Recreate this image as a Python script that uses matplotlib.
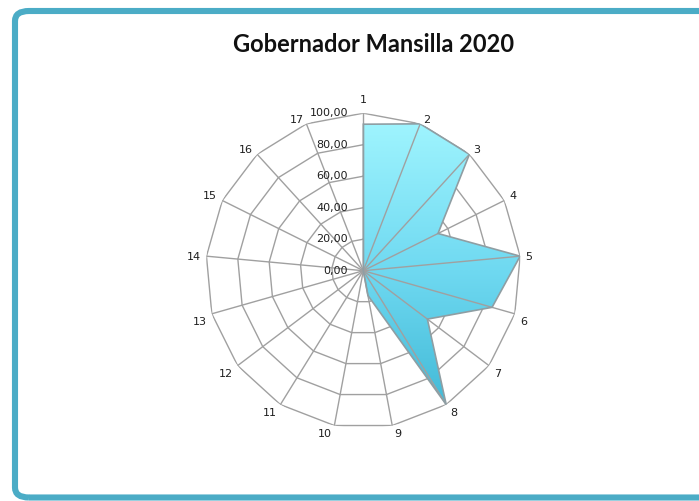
import numpy as np
import matplotlib
matplotlib.use("Agg")
import matplotlib.pyplot as plt
from matplotlib.patches import FancyBboxPatch
from matplotlib.image import BboxImage
from matplotlib.colors import LinearSegmentedColormap

# Data
categories = [str(i) for i in range(1, 18)]
values = [93, 100, 100, 53, 100, 85, 51, 100, 16, 0, 0, 0, 0, 0, 0, 0, 0]
ring_values = [0, 20, 40, 60, 80, 100]
ring_labels = ["0,00", "20,00", "40,00", "60,00", "80,00", "100,00"]
title = "Gobernador Mansilla 2020"

W, H = 699, 501
fig = plt.figure(figsize=(W / 100, H / 100), dpi=100)
fig.patch.set_facecolor("white")

# Rounded frame
frame = FancyBboxPatch((15 / W, (H - 497.5) / H), (720 - 15) / W, (497.5 - 11) / H,
                       boxstyle="round,pad=0,rounding_size=0.02",
                       transform=fig.transFigure, facecolor="none",
                       edgecolor="#4BACC6", linewidth=4.4, zorder=-1)
fig.patches.append(frame)

fig.text(374 / W, 1 - 45 / H, title, ha="center", va="center",
         fontsize=17, fontweight="bold", family="Lato", color="#111111")

cx, cy, R = 363.3, 270.7, 157.5
ax = fig.add_axes([(cx - R) / W, (H - cy - R) / H, 2 * R / W, 2 * R / H],
                  projection="polar")
ax.set_theta_zero_location("N")
ax.set_theta_direction(-1)
ax.set_ylim(0, 100)
ax.patch.set_alpha(0)
ax.grid(False)
ax.set_xticks([])
ax.set_yticks([])
ax.spines["polar"].set_visible(False)

n = len(categories)
theta = np.arange(n) * 2 * np.pi / n
theta_closed = np.append(theta, theta[0])

grid_color = "#A0A0A0"
# Polygon rings
for rv in ring_values[1:]:
    ax.plot(theta_closed, [rv] * (n + 1), color=grid_color, lw=1.0, zorder=1)

# Filled series with a vertical gradient
vals_closed = np.append(values, values[0])
poly = ax.fill(theta_closed, vals_closed, facecolor="none",
               edgecolor="#8F9EA3", linewidth=1.2, zorder=4)[0]
cmap = LinearSegmentedColormap.from_list(
    "fillgrad", ["#3BB5D3", "#6FD9F1", "#A2F6FF"])
grad = np.linspace(0, 1, 256).reshape(-1, 1)
img = BboxImage(ax.bbox, cmap=cmap, origin="lower", interpolation="bilinear")
img.set_data(grad)
img.set_zorder(2)
img.set_clip_path(poly)
ax.add_artist(img)

# Spokes
for t in theta:
    ax.plot([t, t], [0, 100], color=grid_color, lw=1.0, zorder=3)

# Category labels: anchored at each spoke end, text box pushed outward
for t, lab in zip(theta, categories):
    s, c = np.sin(t), np.cos(t)
    if abs(s) < 0.1:
        ha, dx = "center", 0.0
    else:
        ha = "left" if s > 0 else "right"
        dx = np.sign(s) * (1.5 + 4.0 * abs(s))
    if abs(s) < 0.1 and c > 0:
        va, dy = "bottom", 8.0
    elif c > 0.2:
        va, dy = "bottom", -1.0
    elif c < -0.2:
        va, dy = "top", -3.0
    else:
        va, dy = "center", -1.0
    ax.annotate(lab, xy=(t, 100), xytext=(dx, dy), textcoords="offset pixels",
                ha=ha, va=va, fontsize=8, family="DejaVu Sans",
                color="#1e1e1e", annotation_clip=False)

# Value axis labels along the first spoke
for rv, lab in zip(ring_values, ring_labels):
    ax.annotate(lab, xy=(0, rv), xytext=(-11, 0), textcoords="offset points",
                ha="right", va="center", fontsize=8, family="DejaVu Sans",
                color="#1e1e1e", zorder=5)

fig.savefig("out.png", dpi=100, facecolor="white")
